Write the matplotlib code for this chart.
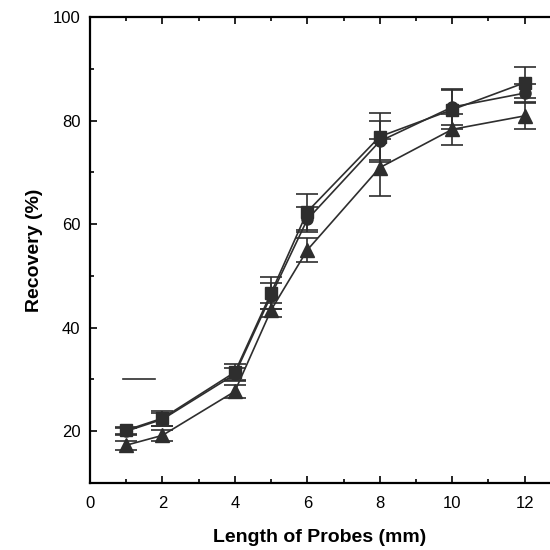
import matplotlib
matplotlib.use("Agg")
import matplotlib.pyplot as plt
from matplotlib.ticker import MultipleLocator

plt.rcParams['font.family'] = ['Liberation Sans', 'DejaVu Sans']

x = [1, 2, 4, 5, 6, 8, 10, 12]
sq = [20.2, 22.5, 31.4, 46.7, 62.4, 76.9, 82.1, 87.3]
sq_err = [0.7, 1.4, 1.5, 3.0, 3.5, 4.5, 3.8, 3.0]
ci = [20.0, 22.3, 31.0, 46.2, 60.9, 76.0, 82.6, 85.3]
ci_err = [0.7, 1.3, 1.3, 2.5, 2.5, 4.0, 3.5, 1.8]
tr = [17.3, 19.2, 27.7, 43.4, 55.0, 70.9, 78.3, 80.9]
tr_err = [0.9, 1.0, 1.2, 1.3, 2.3, 5.5, 3.0, 2.5]

fig = plt.figure(figsize=(5.5, 5.5), dpi=100)
ax = fig.add_axes([0.1636, 0.1218, 0.8364, 0.8473])

col = '#2e2e2e'
kw = dict(color=col, ecolor=col, lw=1.2, elinewidth=1.2, capsize=8, capthick=1.2)
ax.errorbar(x, sq, yerr=sq_err, marker='s', ms=8, **kw)
ax.errorbar(x, ci, yerr=ci_err, marker='o', ms=8, **kw)
ax.errorbar(x, tr, yerr=tr_err, marker='^', ms=9.5, **kw)

# stray short dash in the reference
ax.plot([0.9, 1.8], [30, 30], color=col, lw=1.2)

ax.set_xlim(0, 12.7)
ax.set_ylim(10, 100)
ax.xaxis.set_major_locator(MultipleLocator(2))
ax.xaxis.set_minor_locator(MultipleLocator(1))
ax.yaxis.set_major_locator(MultipleLocator(20))
ax.yaxis.set_minor_locator(MultipleLocator(10))
ax.set_yticks([20, 40, 60, 80, 100])

ax.tick_params(axis='both', which='both', direction='out', labelsize=12, colors='black', width=1.2)
ax.tick_params(axis='x', which='both', pad=9)
ax.tick_params(axis='y', which='both', pad=7)
ax.tick_params(axis='both', which='major', length=5)
ax.tick_params(axis='both', which='minor', length=3)
ax.tick_params(top=True, which='both', direction='in')
ax.tick_params(axis='x', which='both', bottom=True)
for s in ax.spines.values():
    s.set_linewidth(1.6)
ax.spines['right'].set_visible(False)

ax.set_xlabel('Length of Probes (mm)', fontsize=14, fontweight='bold', labelpad=13)
ax.set_ylabel('Recovery (%)', fontsize=14, fontweight='bold', labelpad=7)

fig.savefig('out.png', dpi=100)
